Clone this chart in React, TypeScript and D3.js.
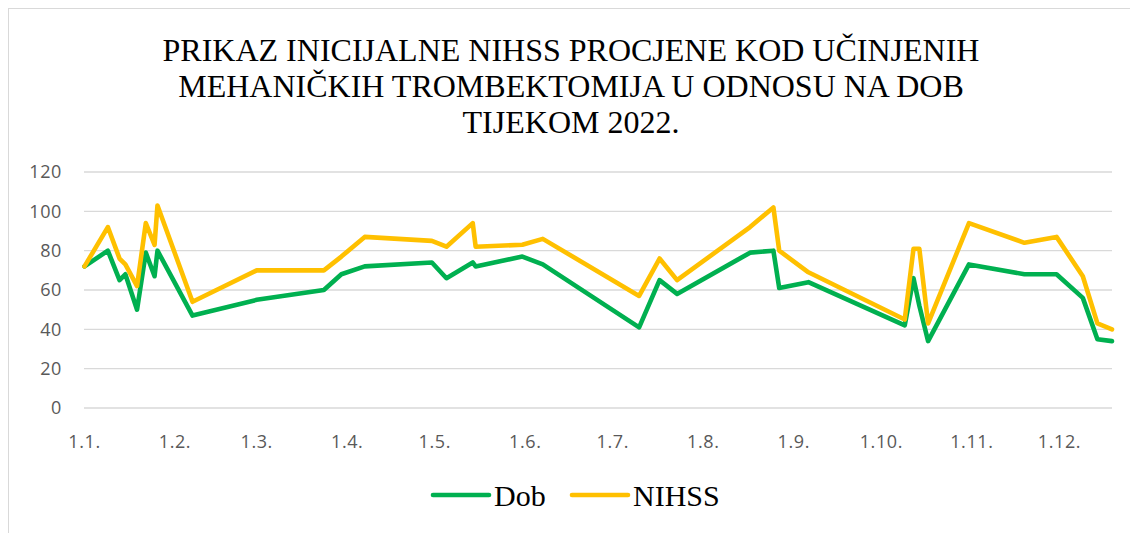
import React from "react";
import * as d3 from "d3";

const dates = [
  "2022-01-01", "2022-01-09", "2022-01-13", "2022-01-15", "2022-01-19", "2022-01-22",
  "2022-01-25", "2022-01-26", "2022-02-07", "2022-03-01", "2022-03-24", "2022-03-30",
  "2022-04-07", "2022-04-30", "2022-05-05", "2022-05-14", "2022-05-15", "2022-05-31",
  "2022-06-07", "2022-07-10", "2022-07-17", "2022-07-23", "2022-08-17", "2022-08-25",
  "2022-08-27", "2022-09-06", "2022-10-09", "2022-10-12", "2022-10-14", "2022-10-17",
  "2022-10-31", "2022-11-19", "2022-11-30", "2022-12-09", "2022-12-14", "2022-12-19",
];

const dob = [
  72, 80, 65, 68, 50, 79, 67, 80, 47, 55, 60, 68,
  72, 74, 66, 74, 72, 77, 73, 41, 65, 58, 79, 80,
  61, 64, 42, 66, 52, 34, 73, 68, 68, 56, 35, 34,
];

const nihss = [
  72, 92, 76, 73, 62, 94, 83, 103, 54, 70, 70, 77,
  87, 85, 82, 94, 82, 83, 86, 57, 76, 65, 92, 102,
  80, 69, 45, 81, 81, 43, 94, 84, 87, 67, 43, 40,
];

const yTicks = [0, 20, 40, 60, 80, 100, 120];
const titleLines = [
  "PRIKAZ INICIJALNE NIHSS PROCJENE KOD UČINJENIH",
  "MEHANIČKIH TROMBEKTOMIJA U ODNOSU NA DOB",
  "TIJEKOM 2022.",
];
const seriesNames = ["Dob", "NIHSS"];
const seriesColors = ["#00B050", "#FFC000"];

const parse = d3.timeParse("%Y-%m-%d");

export default function App() {
  const W = 1130;
  const H = 533;
  const parsed = dates.map((d) => parse(d) as Date);
  const x = d3
    .scaleTime()
    .domain([parsed[0], parsed[parsed.length - 1]])
    .range([84.5, 1112]);
  const y = d3.scaleLinear().domain([0, 120]).range([408, 172]);
  const monthTicks = d3.timeMonth.range(new Date(2022, 0, 1), new Date(2022, 11, 2));
  const fmt = d3.timeFormat("%-d.%-m.");

  const line = d3
    .line<number>()
    .x((_, i) => x(parsed[i]))
    .y((v) => y(v));

  const series = [dob, nihss];

  return (
    <svg
      width={W}
      height={H}
      style={{ position: "absolute", left: 0, top: 0, background: "#fff" }}
    >
      <rect x={8.5} y={8.5} width={1140} height={540} fill="#fff" stroke="#d9d9d9" strokeWidth={1} />
      {titleLines.map((t, i) => (
        <text
          key={i}
          x={571}
          y={61 + i * 36}
          textAnchor="middle"
          fontFamily="'Liberation Serif', 'Times New Roman', serif"
          fontSize={32}
          fill="#000"
        >
          {t}
        </text>
      ))}
      {yTicks.map((t) => (
        <g key={t}>
          <line x1={84} x2={1112} y1={y(t)} y2={y(t)} stroke="#d9d9d9" strokeWidth={1.3} />
          <text
            x={62}
            y={y(t)}
            dy="0.35em"
            textAnchor="end"
            fontFamily="'Open Sans', sans-serif"
            fontSize={18}
            letterSpacing={0.6}
            fill="#595959"
          >
            {t}
          </text>
        </g>
      ))}
      {monthTicks.map((m, i) => (
        <text
          key={i}
          x={x(m)}
          y={448}
          textAnchor="middle"
          fontFamily="'Open Sans', sans-serif"
          fontSize={18}
          letterSpacing={0.6}
          fill="#595959"
        >
          {fmt(m)}
        </text>
      ))}
      {series.map((s, i) => (
        <path
          key={i}
          d={line(s) || ""}
          fill="none"
          stroke={seriesColors[i]}
          strokeWidth={4.6}
          strokeLinejoin="round"
          strokeLinecap="round"
        />
      ))}
      {seriesNames.map((n, i) => {
        const lx = i === 0 ? 433 : 572;
        return (
          <g key={n}>
            <line
              x1={lx}
              x2={lx + 56}
              y1={495}
              y2={495}
              stroke={seriesColors[i]}
              strokeWidth={4.6}
              strokeLinecap="round"
            />
            <text
              x={lx + 61}
              y={506}
              fontFamily="'Liberation Serif', 'Times New Roman', serif"
              fontSize={30}
              fill="#000"
            >
              {n}
            </text>
          </g>
        );
      })}
    </svg>
  );
}
